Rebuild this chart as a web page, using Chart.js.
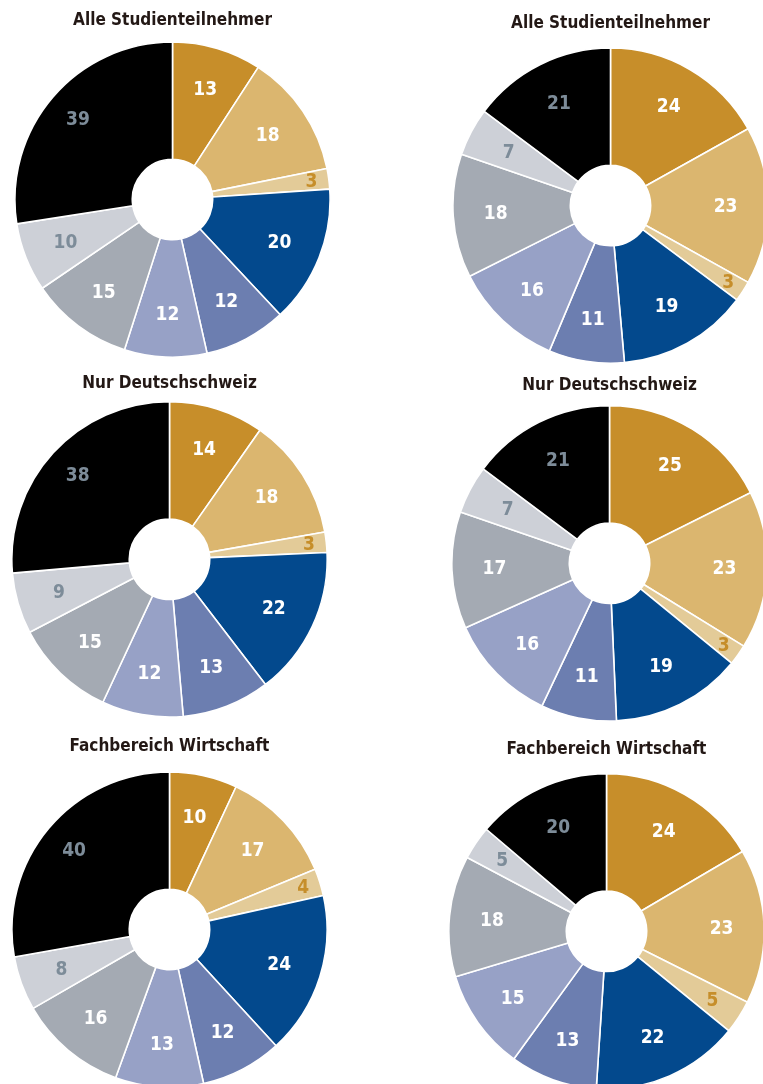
<!DOCTYPE html>
<html>
<head>
<meta charset="utf-8">
<script src="https://cdn.jsdelivr.net/npm/chart.js@4/dist/chart.umd.min.js"></script>
<style>
  html, body { margin: 0; padding: 0; background: #fff; overflow: hidden; }
  body { width: 763px; height: 1084px; position: relative; }
  canvas { position: absolute; }
</style>
</head>
<body>
<script>
var categories = ['Gruppe 1', 'Gruppe 2', 'Gruppe 3', 'Gruppe 4', 'Gruppe 5', 'Gruppe 6', 'Gruppe 7', 'Gruppe 8', 'Gruppe 9']

var titles = [
  'Alle Studienteilnehmer', 'Alle Studienteilnehmer',
  'Nur Deutschschweiz', 'Nur Deutschschweiz',
  'Fachbereich Wirtschaft', 'Fachbereich Wirtschaft'
]

var allLeft = [13, 18, 3, 20, 12, 12, 15, 10, 39]
var allRight = [24, 23, 3, 19, 11, 16, 18, 7, 21]
var dchLeft = [14, 18, 3, 22, 13, 12, 15, 9, 38]
var dchRight = [25, 23, 3, 19, 11, 16, 17, 7, 21]
var wirtLeft = [10, 17, 4, 24, 12, 13, 16, 8, 40]
var wirtRight = [24, 23, 5, 22, 13, 15, 18, 5, 20]

var seriesList = [allLeft, allRight, dchLeft, dchRight, wirtLeft, wirtRight]

// styles
var sliceColours = ['#c78e2a', '#dbb66f', '#e3cb98', '#03498d', '#6c7eb0', '#97a1c6', '#a4aab3', '#cdd0d7', '#000000']
var labelColours = ['#ffffff', '#ffffff', '#c68e2a', '#ffffff', '#ffffff', '#ffffff', '#ffffff', '#7d8c99', '#7d8c99']
var fontFamily = "'Liberation Sans Narrow', 'DejaVu Sans Condensed', sans-serif"

// layout: donut centre and title line
var layout = [
  { cx: 172.5, cy: 199.5, titleY: 20 },
  { cx: 610, cy: 205.5, titleY: 23 },
  { cx: 169, cy: 559, titleY: 383 },
  { cx: 609, cy: 563, titleY: 385 },
  { cx: 169.5, cy: 929.5, titleY: 746 },
  { cx: 606, cy: 931, titleY: 749 }
]
var radius = 157.5
var titleSize = 17
var titleLine = 1.2

var sliceLabels = {
  id: 'sliceLabels',
  afterDatasetsDraw: function(chart) {
    var ctx = chart.ctx
    var meta = chart.getDatasetMeta(0)
    var values = chart.data.datasets[0].data
    var total = values.reduce(function(a, b) { return a + b }, 0)
    ctx.save()
    ctx.font = 'bold 19px ' + fontFamily
    ctx.textAlign = 'center'
    ctx.textBaseline = 'middle'
    meta.data.forEach(function(arc, i) {
      var p = arc.getProps(['x', 'y', 'startAngle', 'endAngle', 'outerRadius'], true)
      var mid = (p.startAngle + p.endAngle) / 2
      var share = values[i] / total
      var r = p.outerRadius * (share < 0.03 ? 0.89 : (share < 0.04 ? 0.8 : (share > 0.25 ? 0.79 : 0.73)))
      ctx.fillStyle = labelColours[i]
      ctx.fillText(values[i], p.x + Math.cos(mid) * r, p.y + Math.sin(mid) * r + 1)
    })
    ctx.restore()
  }
}

function makeChart(index) {
  var pos = layout[index]
  var side = radius * 2 + 2
  var titleBox = titleSize * titleLine
  var canvasTop = pos.titleY - titleBox / 2
  var gap = pos.cy - side / 2 - titleBox - canvasTop

  var canvas = document.createElement('canvas')
  canvas.width = side
  canvas.height = Math.round(titleBox + gap + side)
  canvas.style.left = (pos.cx - side / 2) + 'px'
  canvas.style.top = canvasTop + 'px'
  document.body.appendChild(canvas)

  return new Chart(canvas.getContext('2d'), {
    type: 'doughnut',
    data: {
      labels: categories,
      datasets: [{
        data: seriesList[index],
        backgroundColor: sliceColours,
        borderColor: '#ffffff',
        borderWidth: 1.6,
        hoverOffset: 0
      }]
    },
    options: {
      responsive: false,
      animation: false,
      cutout: '25.5%',
      layout: { padding: 0 },
      events: [],
      plugins: {
        legend: { display: false },
        tooltip: { enabled: false },
        title: {
          display: true,
          text: titles[index],
          color: '#231815',
          font: { family: fontFamily, size: titleSize, weight: 'bold', lineHeight: titleLine },
          padding: { top: 0, bottom: gap }
        }
      }
    },
    plugins: [sliceLabels]
  })
}

for (var i = 0; i < seriesList.length; i++) {
  makeChart(i)
}
</script>
</body>
</html>
